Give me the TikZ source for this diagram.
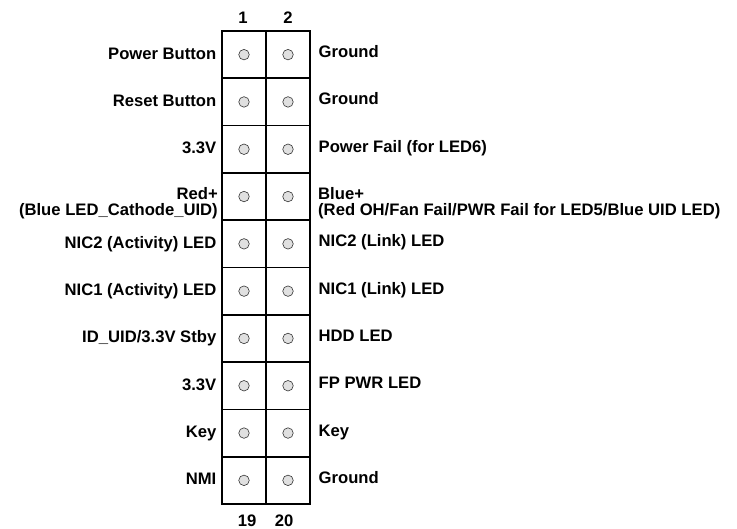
\documentclass[tikz,border=0pt]{standalone}
\usepackage{fontspec}
\setmainfont{Liberation Sans}
\begin{document}
\begin{tikzpicture}[x=1bp,y=-1bp,
  cell/.style={draw=black,line width=1.6bp,minimum width=44bp,minimum height=47.3bp,inner sep=0pt,outer sep=0pt},
  pin/.style={circle,draw=black!80,line width=0.6bp,fill=black!12,minimum size=10.5bp,inner sep=0pt},
  lbl/.style={font=\bfseries\fontsize{16.7}{16}\selectfont,inner sep=0pt},
  num/.style={font=\bfseries\fontsize{16.7}{16}\selectfont,inner sep=0pt,anchor=base}]
\useasboundingbox (0,0) rectangle (737,529);
\foreach \r [count=\i from 0] in {1,...,10}{
  \pgfmathsetmacro{\yc}{31+47.3*\i+23.65}
  \node[cell] (c\r a) at (244,\yc) {};
  \node[cell] (c\r b) at (288,\yc) {};
  \node[pin] (p\r a) at (c\r a.center) {};
  \node[pin] (p\r b) at (c\r b.center) {};
}
\node[num] (n1) at (243,23.3) {1};
\node[num] (n2) at (288,23.3) {2};
\node[num] (n19) at (247,526.5) {19};
\node[num] (n20) at (284,526.5) {20};
% left labels
\foreach \r/\t in {1/{Power Button},2/{Reset Button},3/{3.3V},5/{NIC2 (Activity) LED},6/{NIC1 (Activity) LED},7/{ID\_UID/3.3V Stby},8/{3.3V},9/{Key},10/{NMI}}{
  \node[lbl,anchor=base east] (l\r) at ([xshift=-5.5bp,yshift=-4.5bp]c\r a.west) {\t};
}
\node[lbl,anchor=east,align=right] (l4) at ([xshift=-4bp,yshift=-6.5bp]c4a.west) {Red+\\(Blue LED\_Cathode\_UID)};
% right labels
\foreach \r/\t in {1/{Ground},2/{Ground},3/{Power Fail (for LED6)},5/{NIC2 (Link) LED},6/{NIC1 (Link) LED},7/{HDD LED},8/{FP PWR LED},9/{Key},10/{Ground}}{
  \node[lbl,anchor=base west] (r\r) at ([xshift=8.5bp,yshift=-3bp]c\r b.east) {\t};
}
\node[lbl,anchor=west,align=left] (r4) at ([xshift=8bp,yshift=-6.5bp]c4b.east) {Blue+\\(Red OH/Fan Fail/PWR Fail for LED5/Blue UID LED)};
\end{tikzpicture}
\end{document}
